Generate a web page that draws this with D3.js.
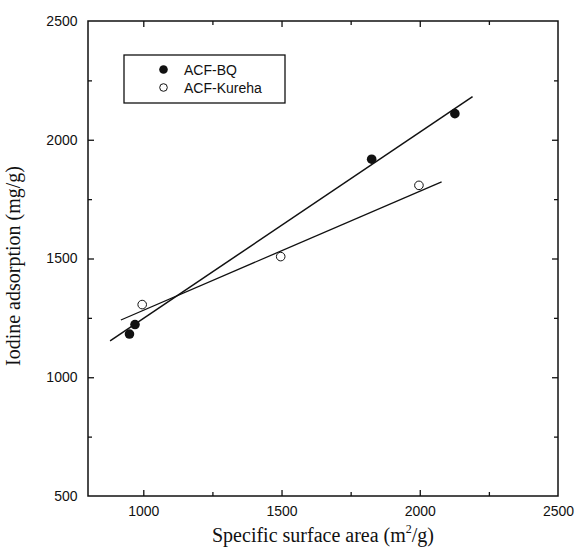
<!DOCTYPE html>
<html>
<head>
<meta charset="utf-8">
<script src="https://cdn.jsdelivr.net/npm/d3@7/dist/d3.min.js"></script>
<style>
  html, body { margin: 0; padding: 0; background: #fff; }
  svg { display: block; }
</style>
</head>
<body>
<svg id="chart" width="576" height="556"></svg>
<script>
// ---- data ----
const bqX = [950, 970, 1826, 2127];
const bqY = [1182, 1222, 1918, 2110];
const kurehaX = [996, 1497, 1997];
const kurehaY = [1306, 1508, 1808];
// fitted lines (endpoints)
const bqFitX = [880, 2191];
const bqFitY = [1153, 2182];
const kurehaFitX = [919, 2079];
const kurehaFitY = [1241, 1823];
const xTicks = [1000, 1500, 2000, 2500];
const xMinor = [1250, 1750, 2250];
const yTicks = [500, 1000, 1500, 2000, 2500];
const yMinor = [750, 1250, 1750, 2250];
const seriesNames = ["ACF-BQ", "ACF-Kureha"];

(function () {
const svg = d3.select("#chart");
const pL = 88, pR = 558, pT = 21, pB = 496;
const x = d3.scaleLinear().domain([800, 2500]).range([pL, pR]);
const y = d3.scaleLinear().domain([500, 2500]).range([pB, pT]);
const ink = "#111";
const sans = "'Liberation Sans', Arial, sans-serif";
const serif = "'Liberation Serif', 'Times New Roman', serif";

// frame
svg.append("rect").attr("x", pL).attr("y", pT)
  .attr("width", pR - pL).attr("height", pB - pT)
  .attr("fill", "none").attr("stroke", ink).attr("stroke-width", 1.5);

// axes with inward ticks
function styleAxis(g) {
  g.select(".domain").remove();
  g.selectAll("line").attr("stroke", ink).attr("stroke-width", 1.3);
}
const xMajorTicks = xTicks.filter(d => d < 2500);
svg.append("g").attr("transform", `translate(0,${pB})`)
  .call(d3.axisBottom(x).tickValues(xTicks).tickSizeInner(-6).tickSizeOuter(0).tickPadding(10.5).tickFormat(d3.format("d")))
  .call(styleAxis)
  .call(g => g.selectAll("text").attr("font-family", sans).attr("font-size", 14).attr("fill", ink))
  .call(g => g.selectAll(".tick").filter(d => d === 2500).select("line").remove());
svg.append("g").attr("transform", `translate(0,${pB})`)
  .call(d3.axisBottom(x).tickValues(xMinor).tickSize(-4).tickFormat(""))
  .call(styleAxis);
svg.append("g").attr("transform", `translate(0,${pT})`)
  .call(d3.axisTop(x).tickValues(xMajorTicks).tickSize(-6).tickFormat(""))
  .call(styleAxis);
svg.append("g").attr("transform", `translate(0,${pT})`)
  .call(d3.axisTop(x).tickValues(xMinor).tickSize(-4).tickFormat(""))
  .call(styleAxis);

svg.append("g").attr("transform", `translate(${pL},0)`)
  .call(d3.axisLeft(y).tickValues(yTicks).tickSizeInner(-6).tickSizeOuter(0).tickPadding(10.5).tickFormat(d3.format("d")))
  .call(styleAxis)
  .call(g => g.selectAll("text").attr("font-family", sans).attr("font-size", 14).attr("fill", ink))
  .call(g => g.selectAll(".tick").filter(d => d === 500 || d === 2500).select("line").remove());
svg.append("g").attr("transform", `translate(${pL},0)`)
  .call(d3.axisLeft(y).tickValues(yMinor).tickSize(-4).tickFormat(""))
  .call(styleAxis);
svg.append("g").attr("transform", `translate(${pR},0)`)
  .call(d3.axisRight(y).tickValues(yTicks.filter(d => d > 500 && d < 2500)).tickSize(-6).tickFormat(""))
  .call(styleAxis);
svg.append("g").attr("transform", `translate(${pR},0)`)
  .call(d3.axisRight(y).tickValues(yMinor).tickSize(-4).tickFormat(""))
  .call(styleAxis);

// fit lines
const line = d3.line().x(d => x(d[0])).y(d => y(d[1]));
svg.append("path").datum(d3.zip(bqFitX, bqFitY)).attr("d", line)
  .attr("fill", "none").attr("stroke", ink).attr("stroke-width", 1.5);
svg.append("path").datum(d3.zip(kurehaFitX, kurehaFitY)).attr("d", line)
  .attr("fill", "none").attr("stroke", ink).attr("stroke-width", 1.3);

// points
svg.append("g").selectAll("circle").data(d3.zip(bqX, bqY)).join("circle")
  .attr("cx", d => x(d[0])).attr("cy", d => y(d[1])).attr("r", 4.8)
  .attr("fill", ink);
svg.append("g").selectAll("circle").data(d3.zip(kurehaX, kurehaY)).join("circle")
  .attr("cx", d => x(d[0])).attr("cy", d => y(d[1])).attr("r", 4.3)
  .attr("fill", "#fff").attr("stroke", ink).attr("stroke-width", 1);

// legend
const lg = svg.append("g");
lg.append("rect").attr("x", 124).attr("y", 55).attr("width", 161).attr("height", 48)
  .attr("fill", "#fff").attr("stroke", ink).attr("stroke-width", 1.3);
const legendRows = [
  { name: seriesNames[0], filled: true, cy: 69.5 },
  { name: seriesNames[1], filled: false, cy: 87.5 }
];
legendRows.forEach(r => {
  lg.append("circle").attr("cx", 163.5).attr("cy", r.cy).attr("r", r.filled ? 4.3 : 3.8)
    .attr("fill", r.filled ? ink : "#fff").attr("stroke", ink).attr("stroke-width", r.filled ? 0 : 1);
  lg.append("text").attr("x", 184).attr("y", r.cy + 5).text(r.name)
    .attr("font-family", sans).attr("font-size", 14).attr("fill", ink);
});

// axis titles
const xt = svg.append("text").attr("x", (pL + pR) / 2).attr("y", 542)
  .attr("text-anchor", "middle").attr("font-family", serif).attr("font-size", 20).attr("fill", ink);
xt.append("tspan").text("Specific surface area (m");
xt.append("tspan").text("2").attr("font-size", 12).attr("dy", -9);
xt.append("tspan").text("/g)").attr("dy", 9);

svg.append("text")
  .attr("transform", `translate(19.5,266) rotate(-90)`)
  .attr("text-anchor", "middle").attr("font-family", serif).attr("font-size", 20).attr("fill", ink)
  .text("Iodine adsorption (mg/g)");
})();
</script>
</body>
</html>
